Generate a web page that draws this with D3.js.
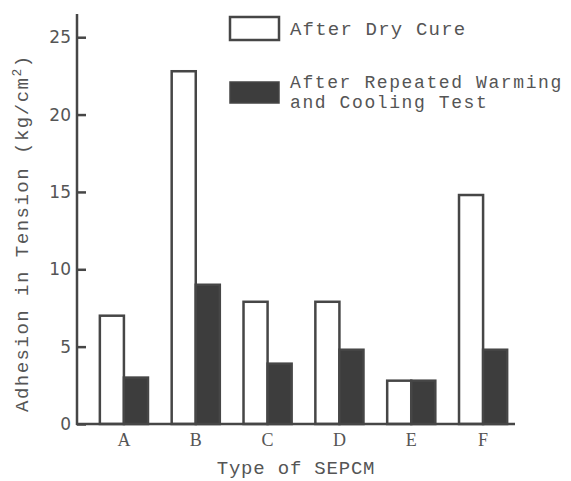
<!DOCTYPE html>
<html>
<head>
<meta charset="utf-8">
<script src="https://cdn.jsdelivr.net/npm/d3@7"></script>
<style>
  body { margin: 0; background: #fff; }
  svg { display: block; }
  .mono { font-family: "Liberation Mono", "DejaVu Sans Mono", monospace; fill: #555; }
</style>
</head>
<body>
<script>
"use strict";

// data
var types = ["A", "B", "C", "D", "E", "F"];
var dryCure = [7, 22.8, 7.9, 7.9, 2.8, 14.8];
var warmCool = [3, 9, 3.9, 4.8, 2.8, 4.8];
var yTicks = [0, 5, 10, 15, 20, 25];
var seriesNames = ["After Dry Cure", "After Repeated Warming", "and Cooling Test"];

var W = 571, H = 481;
var ink = "#464646";

var svg = d3.select("body").append("svg").attr("width", W).attr("height", H);

//Scales
var y = d3.scaleLinear().domain([0, 26.5]).range([424, 14]);
var x0 = d3.scaleBand().domain(types).range([88, 519]).paddingInner(0.33).paddingOuter(0.165);
var x1 = d3.scaleBand().domain([0, 1]).range([0, x0.bandwidth()]);

//Bars
var rows = types.map(function (t, i) {
  return { type: t, vals: [dryCure[i], warmCool[i]] };
});

var groups = svg.append("g").selectAll("g").data(rows).enter().append("g")
  .attr("transform", function (d) { return "translate(" + x0(d.type) + ",0)"; });

groups.selectAll("rect").data(function (d) { return d.vals; }).enter().append("rect")
  .attr("x", function (d, i) { return x1(i); })
  .attr("y", function (d) { return y(d); })
  .attr("width", x1.bandwidth())
  .attr("height", function (d) { return y(0) - y(d); })
  .style("fill", function (d, i) { return i === 0 ? "#fff" : "#3d3d3d"; })
  .style("stroke", ink)
  .style("stroke-width", 2.5);

//Y axis (ticks point inward)
var yAxis = d3.axisRight(y).tickValues(yTicks).tickSize(9).tickFormat("");
var yg = svg.append("g").attr("transform", "translate(77,0)").call(yAxis);
yg.select(".domain").remove();
yg.selectAll(".tick line").style("stroke", ink).style("stroke-width", 2.5);

svg.append("line").attr("x1", 77).attr("x2", 77).attr("y1", y(26.5)).attr("y2", y(0) + 1)
  .style("stroke", ink).style("stroke-width", 2.5);
svg.append("line").attr("x1", 76).attr("x2", 515).attr("y1", y(0)).attr("y2", y(0))
  .style("stroke", ink).style("stroke-width", 2.5);

svg.append("g").selectAll("text").data(yTicks).enter().append("text")
  .attr("x", 71).attr("y", function (d) { return y(d) + 6; })
  .attr("text-anchor", "end")
  .style("font-family", "'DejaVu Sans', sans-serif").style("font-size", "17px").style("fill", "#555")
  .text(function (d) { return d; });

//X labels
svg.append("g").selectAll("text").data(types).enter().append("text")
  .attr("x", function (d) { return x0(d) + x0.bandwidth() / 2; })
  .attr("y", 446)
  .attr("text-anchor", "middle")
  .style("font-family", "'Liberation Serif', serif").style("font-size", "18px").style("fill", "#555")
  .text(function (d) { return d; });

svg.append("text").attr("class", "mono").attr("x", 296).attr("y", 474)
  .attr("text-anchor", "middle").style("font-size", "19px").style("letter-spacing", "0.8px")
  .text("Type of SEPCM");

//Y title
var yt = svg.append("text").attr("class", "mono")
  .attr("transform", "translate(28,412) rotate(-90)")
  .style("font-size", "19px").style("letter-spacing", "1.5px");
yt.append("tspan").text("Adhesion in Tension (kg/cm");
yt.append("tspan").attr("dy", -7).style("font-size", "13px").text("2");
yt.append("tspan").attr("dy", 7).text(")");

//Legend
var legend = svg.append("g");
legend.append("rect").attr("x", 230).attr("y", 17).attr("width", 49).attr("height", 23)
  .style("fill", "#fff").style("stroke", ink).style("stroke-width", 2.5);
legend.append("rect").attr("x", 230).attr("y", 82).attr("width", 49).attr("height", 21)
  .style("fill", "#3d3d3d").style("stroke", ink).style("stroke-width", 1.5);
legend.selectAll("text").data(seriesNames).enter().append("text").attr("class", "mono")
  .attr("x", 290)
  .attr("y", function (d, i) { return [35, 88, 108][i]; })
  .style("font-size", function (d, i) { return i === 0 ? "19px" : "18px"; })
  .style("letter-spacing", function (d, i) { return i === 0 ? "1.2px" : "1.6px"; })
  .text(function (d) { return d; });
</script>
</body>
</html>
